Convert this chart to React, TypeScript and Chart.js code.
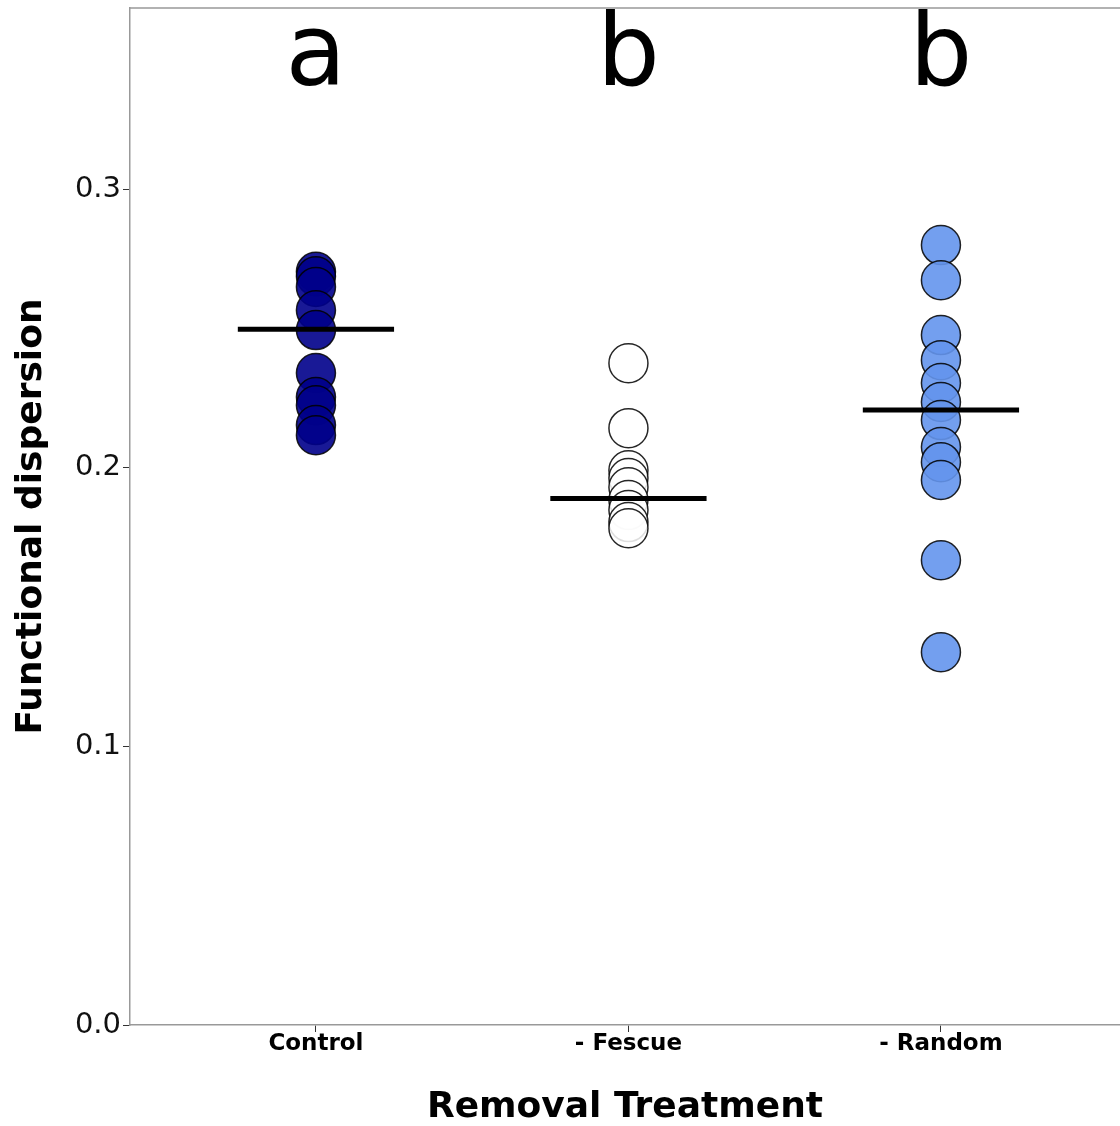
import React, { useEffect, useRef } from "react";
import { Chart, registerables } from "chart.js";

Chart.register(...registerables);

const categories = ["Control", "- Fescue", "- Random"];
const letters = ["a", "b", "b"];
const controlValues = [0.2703, 0.2687, 0.2649, 0.2565, 0.2494, 0.234, 0.2254, 0.2224, 0.2153, 0.2117];
const fescueValues = [0.2375, 0.2142, 0.1991, 0.1963, 0.193, 0.1884, 0.1848, 0.1805, 0.1783];
const randomValues = [0.2799, 0.2673, 0.2476, 0.2386, 0.2304, 0.2236, 0.2171, 0.2074, 0.202, 0.1956, 0.1668, 0.1338];
const meanValues = [0.2497, 0.189, 0.2207];
const yTicks = [0, 0.1, 0.2, 0.3];
const fillColors = ["rgba(0,0,139,0.9)", "rgba(255,255,255,0.85)", "rgba(100,149,237,0.9)"];

const FONT = "'DejaVu Sans', sans-serif";
const LETTER_Y = 0.3375;

export default function App() {
  const ref = useRef<HTMLCanvasElement>(null);
  useEffect(() => {
    if (!ref.current) return;
    const groups = [controlValues, fescueValues, randomValues];
    const scatterSets = groups.map((vals, i) => ({
      type: "scatter" as const,
      label: categories[i],
      data: vals.map((v) => ({ x: i + 1, y: v })),
      backgroundColor: fillColors[i],
      borderColor: "rgba(0,0,0,0.85)",
      borderWidth: 1.5,
      pointRadius: 19.5,
      pointHoverRadius: 19.5,
      order: 2,
    }));
    const meanSets = meanValues.map((m, i) => ({
      type: "line" as const,
      label: "mean " + categories[i],
      data: [
        { x: i + 1 - 0.25, y: m },
        { x: i + 1 + 0.25, y: m },
      ],
      borderColor: "#000",
      borderWidth: 5,
      pointRadius: 0,
      fill: false,
      order: 1,
    }));
    const extras = {
      id: "extras",
      afterDraw(chart: any) {
        const { ctx, chartArea, scales } = chart;
        ctx.save();
        ctx.strokeStyle = "#999";
        ctx.lineWidth = 1.5;
        ctx.beginPath();
        ctx.moveTo(chartArea.left, chartArea.top);
        ctx.lineTo(chartArea.right, chartArea.top);
        ctx.stroke();
        ctx.fillStyle = "#000";
        ctx.font = "99px " + FONT;
        ctx.textAlign = "center";
        ctx.textBaseline = "alphabetic";
        letters.forEach((l, i) => {
          ctx.fillText(l, scales.x.getPixelForValue(i + 1), scales.y.getPixelForValue(LETTER_Y));
        });
        ctx.restore();
      },
    };
    const chart = new Chart(ref.current, {
      type: "scatter",
      data: { datasets: [...meanSets, ...scatterSets] as any },
      options: {
        animation: false,
        responsive: false,
        events: [],
        layout: { autoPadding: false, padding: { top: 8, right: 0, left: 0, bottom: 0 } },
        plugins: { legend: { display: false }, tooltip: { enabled: false } },
        scales: {
          x: {
            type: "linear",
            min: 0.405,
            max: 3.573,
            afterBuildTicks: (s: any) => {
              s.ticks = categories.map((_, i) => ({ value: i + 1 }));
            },
            afterFit: (s: any) => {
              s.height = 101;
              s.paddingLeft = 0;
              s.paddingRight = 0;
            },
            grid: { display: true, drawOnChartArea: false, drawTicks: true, tickLength: 7, color: "#333", lineWidth: 1 },
            border: { display: true, color: "#999", width: 1.5 },
            ticks: {
              callback: (v: any) => categories[Math.round(v) - 1] ?? "",
              font: { family: FONT, size: 23, weight: "bold" },
              color: "#000",
              padding: -2,
              maxRotation: 0,
            },
            title: {
              display: true,
              text: "Removal Treatment",
              font: { family: FONT, size: 36, weight: "bold", lineHeight: 1 },
              color: "#000",
              padding: 0,
            },
          },
          y: {
            type: "linear",
            min: 0,
            max: 0.365,
            afterBuildTicks: (s: any) => {
              s.ticks = yTicks.map((v) => ({ value: v }));
            },
            afterFit: (s: any) => {
              s.width = 130;
              s.paddingTop = 0;
              s.paddingBottom = 0;
            },
            grid: { display: true, drawOnChartArea: false, drawTicks: true, tickLength: 7, color: "#333", lineWidth: 1 },
            border: { display: true, color: "#999", width: 1.5 },
            ticks: {
              callback: (v: any) => Number(v).toFixed(1),
              font: { family: FONT, size: 29 },
              color: "#111",
              padding: 2,
            },
            title: {
              display: true,
              text: "Functional dispersion",
              font: { family: FONT, size: 36, weight: "bold", lineHeight: 1.2 },
              color: "#000",
              padding: { top: 10, bottom: 0 },
            },
          },
        },
      },
      plugins: [extras],
    } as any);
    return () => chart.destroy();
  }, []);
  return (
    <div style={{ position: "absolute", left: 0, top: 0, width: 1120, height: 1126, background: "#fff" }}>
      <canvas ref={ref} width={1120} height={1126} style={{ width: 1120, height: 1126, display: "block" }} />
    </div>
  );
}
